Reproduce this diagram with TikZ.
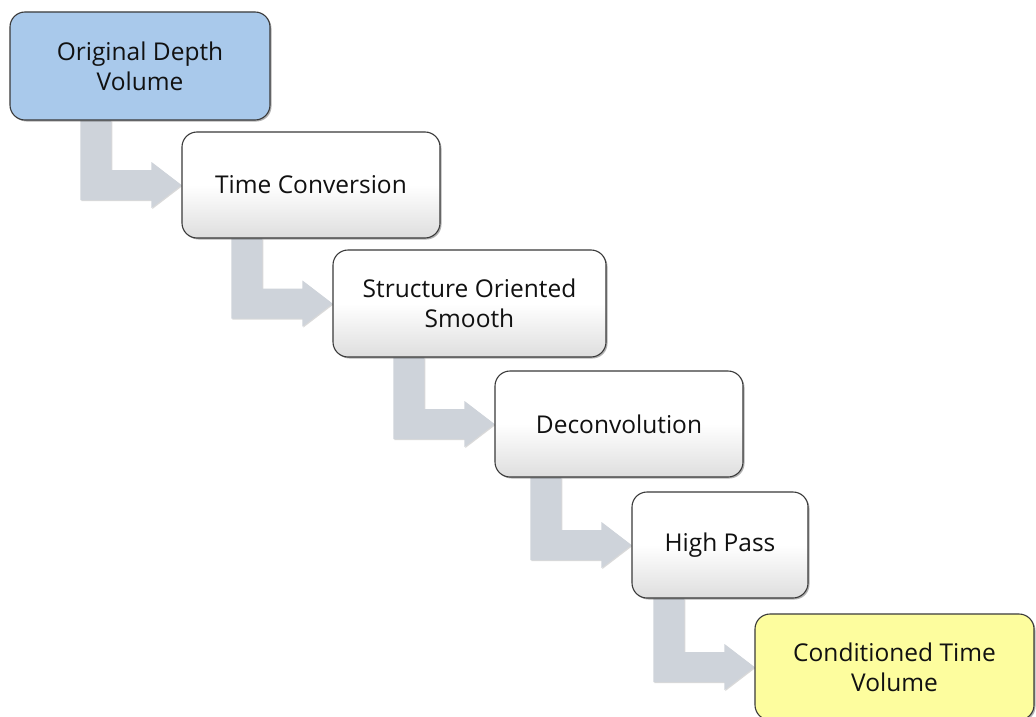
\documentclass[tikz,border=0pt]{standalone}
\usepackage{fontspec}
\setmainfont{Open Sans}
\usetikzlibrary{calc,shadows,backgrounds}
\definecolor{boxblue}{HTML}{A9C9EB}
\definecolor{boxyellow}{HTML}{FDFD9E}
\definecolor{arrowgray}{HTML}{CED3DA}
\definecolor{edgegray}{HTML}{3A3A3A}
\definecolor{txt}{HTML}{111111}
\tikzset{
  stepbox/.style={draw=edgegray, line width=1.1pt, rounded corners=15pt,
    align=center, text=txt, inner sep=0pt,
    drop shadow={shadow xshift=1.5pt, shadow yshift=-1.5pt, opacity=0.3, fill=black}},
  greybox/.style={stepbox, top color=white, bottom color=black!13, middle color=white},
  flowarrow/.style={fill=arrowgray,
    drop shadow={shadow xshift=1pt, shadow yshift=-1pt, opacity=0.15, fill=black}}
}
\newcommand{\stepconn}[2]{%
  \fill[flowarrow] let \p1=(#1.south), \p2=(#2.west) in
    (\x2-101pt,\y1) -- (\x2-70pt,\y1) -- (\x2-70pt,\y2+15pt) --
    (\x2-30pt,\y2+15pt) -- (\x2-30pt,\y2+23pt) -- (\p2) --
    (\x2-30pt,\y2-23pt) -- (\x2-30pt,\y2-15pt) -- (\x2-101pt,\y2-15pt) -- cycle;}
\begin{document}
\begin{tikzpicture}[x=1pt,y=-1pt, font=\fontsize{24.5}{30}\selectfont]
\useasboundingbox (0,0) rectangle (1036,717);
\clip (0,0) rectangle (1036,717);
\node[stepbox, fill=boxblue, minimum width=260pt, minimum height=108pt] (n1) at (140,66) {Original Depth\\Volume};
\node[greybox, minimum width=258pt, minimum height=106pt] (n2) at (311,185) {Time Conversion};
\node[greybox, minimum width=273pt, minimum height=107pt] (n3) at (469.5,303.5) {Structure Oriented\\Smooth};
\node[greybox, minimum width=248pt, minimum height=106pt] (n4) at (619,424) {Deconvolution};
\node[greybox, minimum width=176pt, minimum height=106pt] (n5) at (720,545) {High Pass};
\node[stepbox, fill=boxyellow, minimum width=279pt, minimum height=106pt] (n6) at (894.5,667) {Conditioned Time\\Volume};
\begin{scope}[on background layer]
\fill[white] (0,0) rectangle (1036,717);
\stepconn{n1}{n2}
\stepconn{n2}{n3}
\stepconn{n3}{n4}
\stepconn{n4}{n5}
\stepconn{n5}{n6}
\end{scope}
\end{tikzpicture}
\end{document}
